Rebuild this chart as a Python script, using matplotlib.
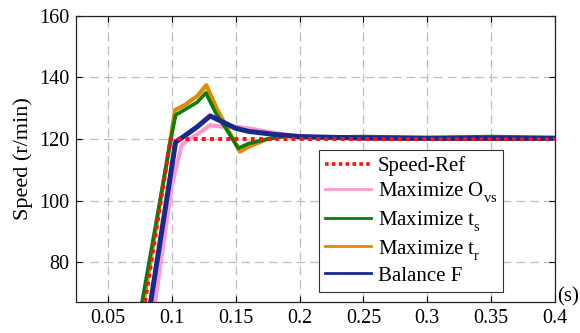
import matplotlib
matplotlib.use("Agg")
import matplotlib.pyplot as plt
try:
    import matplotlib._mathtext as _mt
    _mt.FontConstantsBase.sub1 = 0.6
    _mt.FontConstantsBase.sub2 = 0.75
except Exception:
    pass

plt.rcParams['font.family'] = ['Liberation Serif', 'DejaVu Serif']
plt.rcParams['mathtext.fontset'] = 'custom'
plt.rcParams['mathtext.rm'] = 'Liberation Serif'
plt.rcParams['mathtext.it'] = 'Liberation Serif'

# Data
t_ref = [0.070, 0.099, 0.400]
v_ref = [43.0, 120.0, 120.0]

t_pink = [0.080, 0.0869, 0.100, 0.1077, 0.112, 0.120, 0.130, 0.140, 0.150, 0.160, 0.180, 0.200, 0.250, 0.300, 0.350, 0.400]
v_pink = [45.0, 67.0, 105.0, 118.0, 119.5, 121.5, 124.5, 124.0, 124.0, 123.5, 122.0, 120.8, 120.2, 120.0, 120.0, 120.0]

t_green = [0.070, 0.0767, 0.0993, 0.1030, 0.110, 0.120, 0.1266, 0.135, 0.1430, 0.152, 0.160, 0.175, 0.190, 0.200, 0.250, 0.300, 0.350, 0.400]
v_green = [45.0, 67.0, 120.0, 127.8, 129.5, 132.0, 135.0, 128.0, 123.0, 117.0, 118.5, 120.0, 121.0, 120.5, 120.8, 120.5, 120.8, 120.5]

t_orange = [0.070, 0.0780, 0.0990, 0.1025, 0.110, 0.120, 0.1270, 0.135, 0.1440, 0.1534, 0.160, 0.175, 0.190, 0.200, 0.250, 0.300, 0.350, 0.400]
v_orange = [45.0, 67.0, 120.0, 129.4, 131.0, 134.0, 137.5, 130.0, 123.0, 115.9, 117.5, 120.0, 121.0, 120.5, 120.3, 120.3, 120.3, 120.3]

t_blue = [0.075, 0.0835, 0.1030, 0.110, 0.120, 0.1300, 0.140, 0.150, 0.160, 0.180, 0.200, 0.250, 0.300, 0.350, 0.400]
v_blue = [45.0, 67.0, 119.0, 121.0, 124.0, 127.5, 125.5, 123.5, 122.5, 121.5, 120.8, 120.3, 120.2, 120.2, 120.2]

labels = ['Speed-Ref', r'Maximize O$_{\rm vs}$', r'Maximize t$_{\rm s}$',
          r'Maximize t$_{\rm r}$', 'Balance F']
colors = ['#ff1010', '#ff99cc', '#0a7d0a', '#e08a00', '#1a2a8c']

x_ticks = [0.05, 0.1, 0.15, 0.2, 0.25, 0.3, 0.35, 0.4]
x_ticklabels = ['0.05', '0.1', '0.15', '0.2', '0.25', '0.3', '0.35', '0.4']
y_ticks = [80, 100, 120, 140, 160]

fig = plt.figure(figsize=(5.8, 3.33), dpi=100)
ax = fig.add_axes([0.131, 0.093, 0.826, 0.859])

lines = []
lines += ax.plot(t_ref, v_ref, color=colors[0], lw=2.8, ls=(0, (1, 1.1)), zorder=3)
lines += ax.plot(t_pink, v_pink, color=colors[1], lw=3.0, zorder=2)
lines += ax.plot(t_green, v_green, color=colors[2], lw=2.6, zorder=2.2)
lines += ax.plot(t_orange, v_orange, color=colors[3], lw=3.0, zorder=2.1)
lines += ax.plot(t_blue, v_blue, color=colors[4], lw=3.6, zorder=2.5)

ax.set_xlim(0.025, 0.4)
ax.set_ylim(67, 160)
ax.set_xticks(x_ticks)
ax.set_xticklabels(x_ticklabels)
ax.set_yticks(y_ticks)
ax.tick_params(direction='in', top=True, right=True, length=4, labelsize=14.5, width=0.8, pad=5)
ax.grid(True, color='#bdbdbd', ls=(0, (7, 4)), lw=0.9)
ax.set_axisbelow(True)
for s in ax.spines.values():
    s.set_linewidth(0.9)
    s.set_color('#222222')

ax.set_ylabel('Speed (r/min)', fontsize=16, labelpad=4)
fig.text(0.960, 0.11, '(s)', fontsize=15, ha='left', va='center')

from matplotlib.lines import Line2D
handles = [Line2D([], [], color=colors[0], lw=2.6, ls=(0, (1, 0.9)))]
handles += [Line2D([], [], color=c, lw=2.0) for c in colors[1:]]

leg = ax.legend(handles, labels, loc='lower right', bbox_to_anchor=(0.892, 0.035), fontsize=15,
                handlelength=2.2, frameon=True, fancybox=False, edgecolor='#333333',
                framealpha=1, borderpad=0.3, labelspacing=0.22, handletextpad=0.3,
                borderaxespad=0, handleheight=0.7)
leg.get_frame().set_linewidth(0.8)

fig.savefig('out.png', dpi=100)
